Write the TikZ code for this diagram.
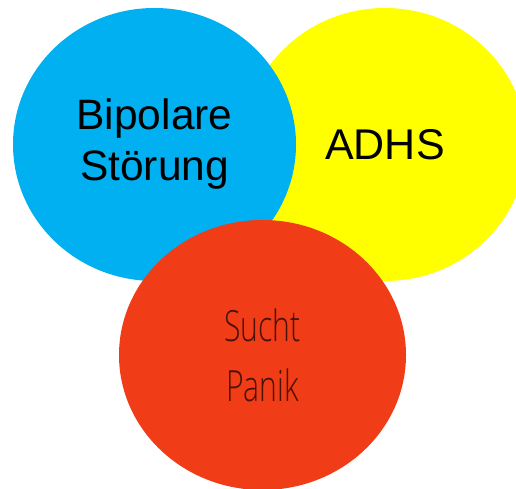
\documentclass[tikz,border=0pt]{standalone}
\usepackage{fontspec}
\setmainfont{Liberation Sans}
\newfontfamily\panikfont[FakeStretch=0.7]{Open Sans Light}
\usetikzlibrary{shapes.geometric}
\definecolor{bipolarblue}{HTML}{00B0F0}
\definecolor{adhsyellow}{HTML}{FFFF00}
\definecolor{suchtred}{HTML}{F03C17}
\definecolor{suchttext}{HTML}{4A1206}
\begin{document}
\begin{tikzpicture}[x=1pt, y=-1pt, blob/.style={ellipse, inner sep=0pt, align=center}]
    \useasboundingbox (0,0) rectangle (516,489);
    \clip (0,0) rectangle (516,489);

    \node[blob, fill=adhsyellow, minimum width=283, minimum height=273, font={\fontsize{43}{50}\selectfont}] (adhs) at (385,144.5) {ADHS};
    \node[blob, fill=bipolarblue, minimum width=283, minimum height=273, font={\fontsize{42.5}{51}\selectfont}] (bipolar) at (154.5,144.5) {Bipolare\\Störung};
    \node[blob, fill=suchtred, text=suchttext, minimum width=287, minimum height=270, font={\panikfont\fontsize{43}{60}\selectfont}] (sucht) at (262.5,355) {Sucht\\Panik};
\end{tikzpicture}
\end{document}
